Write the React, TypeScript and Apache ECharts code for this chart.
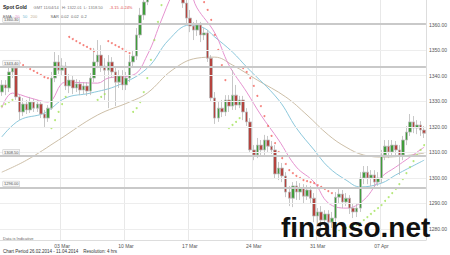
import React, { useEffect, useRef } from "react";
import * as echarts from "echarts";

const OPEN = [
  1333.6, 1336.4, 1335.2, 1341.5, 1343.0, 1331.7, 1325.8, 1328.9, 1326.6, 1329.7,
  1327.3, 1328.9, 1325.0, 1323.4, 1327.3, 1339.1, 1345.4, 1342.2, 1343.8, 1336.0,
  1338.3, 1335.2, 1336.8, 1334.4, 1336.0, 1334.0, 1339.1, 1345.4, 1348.1, 1343.8,
  1342.2, 1345.4, 1341.5, 1337.5, 1339.9, 1336.4, 1339.1, 1345.4, 1347.7, 1356.0,
  1363.8, 1368.9, 1375.6, 1379.5, 1378.3, 1384.6, 1387.3, 1385.4, 1391.3, 1383.4,
  1379.5, 1372.8, 1368.5, 1362.6, 1359.5, 1357.9, 1359.9, 1356.0, 1356.8, 1346.9,
  1331.3, 1323.4, 1327.3, 1325.8, 1330.5, 1328.1, 1332.4, 1328.5, 1330.5, 1325.8,
  1321.9, 1310.9, 1308.9, 1312.8, 1310.9, 1314.8, 1312.4, 1310.9, 1301.5, 1303.8,
  1300.7, 1294.4, 1292.0, 1296.8, 1294.4, 1296.0, 1292.8, 1295.2, 1292.0, 1285.0,
  1286.6, 1283.4, 1285.8, 1282.6, 1284.2, 1292.4, 1293.6, 1290.5, 1292.0, 1288.1,
  1286.6, 1288.1, 1299.9, 1302.2, 1299.9, 1301.1, 1298.3, 1299.9, 1308.9, 1312.4,
  1310.1, 1312.8, 1310.9, 1308.9, 1314.8, 1317.9, 1321.9, 1319.5, 1320.7, 1318.7,
];
const CLOSE = [
  1336.4, 1335.2, 1341.5, 1343.0, 1331.7, 1325.8, 1328.9, 1326.6, 1329.7, 1327.3,
  1328.9, 1325.0, 1323.4, 1327.3, 1339.1, 1345.4, 1342.2, 1343.8, 1336.0, 1338.3,
  1335.2, 1336.8, 1334.4, 1336.0, 1334.0, 1339.1, 1345.4, 1348.1, 1343.8, 1342.2,
  1345.4, 1341.5, 1337.5, 1339.9, 1336.4, 1339.1, 1345.4, 1347.7, 1356.0, 1363.8,
  1368.9, 1375.6, 1379.5, 1378.3, 1384.6, 1387.3, 1385.4, 1391.3, 1383.4, 1379.5,
  1372.8, 1368.5, 1362.6, 1359.5, 1357.9, 1359.9, 1356.0, 1356.8, 1346.9, 1331.3,
  1323.4, 1327.3, 1325.8, 1330.5, 1328.1, 1332.4, 1328.5, 1330.5, 1325.8, 1321.9,
  1310.9, 1308.9, 1312.8, 1310.9, 1314.8, 1312.4, 1310.9, 1301.5, 1303.8, 1300.7,
  1294.4, 1292.0, 1296.8, 1294.4, 1296.0, 1292.8, 1295.2, 1292.0, 1285.0, 1286.6,
  1283.4, 1285.8, 1282.6, 1284.2, 1292.4, 1293.6, 1290.5, 1292.0, 1288.1, 1286.6,
  1288.1, 1299.9, 1302.2, 1299.9, 1301.1, 1298.3, 1299.9, 1308.9, 1312.4, 1310.1,
  1312.8, 1310.9, 1308.9, 1314.8, 1317.9, 1321.9, 1319.5, 1320.7, 1318.7, 1317.5,
];
const LOW = [
  1332.1, 1332.4, 1333.6, 1339.1, 1330.5, 1322.6, 1324.2, 1325.0, 1325.4, 1325.8,
  1325.8, 1323.4, 1319.5, 1321.9, 1326.6, 1337.5, 1340.7, 1339.9, 1334.4, 1333.2,
  1332.8, 1333.6, 1332.4, 1332.8, 1332.1, 1332.4, 1337.5, 1343.0, 1341.5, 1330.5,
  1327.3, 1339.1, 1328.1, 1335.2, 1334.4, 1334.4, 1337.5, 1343.8, 1346.2, 1354.8,
  1361.9, 1367.7, 1373.6, 1376.8, 1377.5, 1382.6, 1383.4, 1384.2, 1381.5, 1376.8,
  1370.5, 1366.6, 1359.9, 1357.1, 1354.0, 1355.6, 1353.2, 1354.0, 1345.4, 1329.7,
  1321.1, 1321.9, 1323.8, 1324.2, 1325.8, 1326.6, 1326.6, 1327.3, 1322.6, 1320.3,
  1309.7, 1306.9, 1307.7, 1308.5, 1308.9, 1310.1, 1309.3, 1299.9, 1299.1, 1298.3,
  1292.4, 1288.9, 1288.5, 1291.3, 1291.3, 1290.1, 1291.3, 1289.7, 1282.6, 1281.8,
  1280.3, 1281.1, 1279.9, 1280.3, 1282.6, 1290.1, 1288.1, 1288.9, 1285.8, 1284.2,
  1284.6, 1286.6, 1297.5, 1297.5, 1296.8, 1296.4, 1296.8, 1297.9, 1306.9, 1307.7,
  1308.1, 1308.5, 1301.1, 1306.9, 1312.8, 1316.4, 1317.5, 1317.1, 1316.4, 1315.6,
];
const HIGH = [
  1338.3, 1338.3, 1344.2, 1345.4, 1344.2, 1332.4, 1331.3, 1330.5, 1331.7, 1330.9,
  1330.5, 1330.1, 1326.6, 1328.5, 1341.5, 1349.3, 1348.1, 1346.9, 1345.4, 1340.7,
  1339.9, 1338.7, 1338.3, 1337.5, 1337.5, 1341.1, 1350.9, 1354.0, 1352.0, 1346.9,
  1348.1, 1347.3, 1343.8, 1342.2, 1342.2, 1341.5, 1348.1, 1350.1, 1358.7, 1366.6,
  1373.6, 1379.5, 1382.2, 1383.4, 1387.3, 1390.1, 1389.3, 1392.4, 1392.1, 1385.4,
  1381.5, 1374.4, 1369.7, 1365.8, 1361.1, 1361.9, 1361.1, 1358.7, 1357.9, 1348.1,
  1333.6, 1329.7, 1330.5, 1332.4, 1332.4, 1342.2, 1336.4, 1332.1, 1332.1, 1327.3,
  1323.4, 1312.8, 1315.6, 1314.8, 1316.8, 1316.4, 1314.4, 1312.8, 1306.2, 1305.8,
  1302.2, 1296.8, 1298.3, 1298.7, 1297.9, 1297.5, 1297.1, 1296.8, 1294.0, 1288.1,
  1288.9, 1287.3, 1287.3, 1286.6, 1294.4, 1296.0, 1295.2, 1294.0, 1293.2, 1290.1,
  1289.7, 1302.2, 1304.6, 1304.6, 1303.0, 1303.0, 1302.2, 1310.9, 1314.8, 1314.8,
  1314.8, 1314.4, 1312.8, 1316.4, 1320.3, 1325.0, 1324.2, 1322.6, 1322.2, 1320.3,
];

// indicator lines: [bar index, value]
const EMA20 = [
  [0, 1327.3], [3, 1333.2], [8, 1331.3], [13, 1329.7], [18, 1337.5], [27, 1337.1],
  [30, 1339.1], [37, 1340.3], [41, 1348.1], [45, 1361.9], [48, 1371.7], [50, 1375.6],
  [53, 1372.8], [55, 1366.6], [60, 1356.8], [64, 1344.2], [69, 1333.6], [73, 1324.6],
  [78, 1314.8], [83, 1304.2], [88, 1298.3], [92, 1290.1], [97, 1288.1], [102, 1291.3],
  [107, 1300.3], [111, 1304.2], [119, 1312.0],
];
const EMA50 = [
  [0, 1316.0], [5, 1322.6], [12, 1325.4], [18, 1331.3], [25, 1333.2], [33, 1336.4],
  [41, 1343.0], [47, 1354.0], [53, 1359.9], [57, 1358.7], [60, 1355.2], [65, 1349.3],
  [69, 1343.4], [78, 1330.5], [83, 1319.5], [88, 1310.9], [92, 1304.2], [97, 1299.1],
  [101, 1296.4], [107, 1297.9], [111, 1301.1], [119, 1306.9],
];
const EMA200 = [
  [0, 1302.2], [7, 1306.9], [16, 1314.8], [27, 1324.6], [36, 1329.7], [41, 1333.2],
  [48, 1342.2], [55, 1346.9], [60, 1347.3], [65, 1344.2], [72, 1338.3], [80, 1331.7],
  [86, 1324.6], [92, 1316.8], [97, 1312.0], [102, 1308.9], [108, 1308.1], [119, 1309.7],
];
const SAR_UP = [
  [0, 1328.1], [1, 1328.9], [2, 1329.7], [3, 1330.5],
  [14, 1319.5], [15, 1322.6], [16, 1325.8], [17, 1328.9], [18, 1331.7],
  [27, 1330.5], [28, 1331.7], [29, 1332.8],
  [37, 1325.8], [38, 1327.3], [39, 1329.7], [40, 1333.6], [41, 1339.1], [42, 1346.2],
  [43, 1354.0], [44, 1361.1], [45, 1367.7], [46, 1373.6], [47, 1377.5],
  [64, 1319.5], [65, 1320.7], [66, 1321.9], [67, 1323.4],
  [94, 1278.7], [95, 1279.5], [96, 1279.9], [97, 1280.3], [98, 1280.7], [99, 1281.1],
  [100, 1281.5], [101, 1282.2], [102, 1283.4], [103, 1284.6], [104, 1285.8], [105, 1287.0],
  [106, 1288.1], [107, 1289.3], [108, 1290.9], [109, 1292.4], [110, 1294.0], [111, 1295.6],
  [112, 1297.5], [113, 1299.5], [114, 1301.8], [115, 1304.2], [116, 1306.5], [117, 1308.9],
  [118, 1310.9], [119, 1312.8],
];
const SAR_DOWN = [
  [5, 1345.0], [6, 1344.2], [7, 1343.4], [8, 1342.6], [9, 1341.9], [10, 1341.1],
  [11, 1340.3], [12, 1339.5], [13, 1339.1],
  [19, 1355.2], [20, 1354.4], [21, 1353.6], [22, 1352.8], [23, 1352.0], [24, 1351.3],
  [25, 1350.5], [26, 1349.7],
  [30, 1353.6], [31, 1352.8], [32, 1352.0], [33, 1351.3], [34, 1350.5], [35, 1349.7], [36, 1348.9],
  [51, 1392.4], [52, 1390.5], [53, 1387.0], [54, 1381.0], [55, 1373.6], [56, 1371.7],
  [57, 1368.9], [58, 1365.8], [59, 1361.9], [60, 1356.0], [61, 1350.1], [62, 1344.2], [63, 1338.3],
  [68, 1343.0], [69, 1341.5], [70, 1339.1], [71, 1336.0], [72, 1332.1], [73, 1328.1],
  [74, 1324.2], [75, 1320.3], [76, 1316.4], [77, 1313.6], [78, 1310.1], [79, 1307.7],
  [80, 1305.4], [81, 1303.0], [82, 1301.8], [83, 1300.7], [84, 1299.9], [85, 1299.1],
  [86, 1298.7], [87, 1298.3], [88, 1297.9], [89, 1297.1], [90, 1296.4], [91, 1295.6],
  [92, 1294.8], [93, 1294.0],
];

const TICK_INDEX = [17, 35, 53, 71, 89, 107];
const TICK_LABELS = ["03 Mar", "10 Mar", "17 Mar", "24 Mar", "31 Mar", "07 Apr"];
const Y_TICKS = [1280, 1290, 1300, 1310, 1320, 1330, 1340, 1350, 1360];
const SUPPORT = [1360.3, 1343.4, 1308.5, 1296.0];

const FONT = "Liberation Sans, Arial, sans-serif";

export default function App() {
  const ref = useRef<HTMLDivElement>(null);
  useEffect(() => {
    if (!ref.current) return;
    const chart = echarts.init(ref.current, null, { renderer: "svg" });
    const cats = OPEN.map((_, i) => String(i));
    const candles = OPEN.map((o, i) => [o, CLOSE[i], LOW[i], HIGH[i]]);
    const last = CLOSE[CLOSE.length - 1];
    const isTick = (i: number) => TICK_INDEX.indexOf(i) >= 0;

    chart.setOption({
      animation: false,
      backgroundColor: "#ffffff",
      textStyle: { fontFamily: FONT },
      grid: { left: 0, right: 20, top: 0, bottom: 15 },
      xAxis: {
        type: "category",
        data: cats,
        axisLine: { show: true, lineStyle: { color: "#dddddd" } },
        axisTick: { show: false },
        axisLabel: {
          interval: (i: number) => isTick(i),
          formatter: (_v: string, i: number) => {
            const k = TICK_INDEX.indexOf(i);
            return k >= 0 ? TICK_LABELS[k] : "";
          },
          fontSize: 5,
          color: "#555",
          margin: 3,
        },
        splitLine: {
          show: true,
          interval: (i: number) => isTick(i),
          lineStyle: { color: "#e8e8e8", width: 1 },
        },
      },
      yAxis: {
        type: "value",
        position: "right",
        min: 1275.6,
        max: 1369.7,
        axisLine: { show: true, lineStyle: { color: "#dddddd" } },
        axisTick: { show: false },
        splitLine: { show: false },
        axisLabel: {
          customValues: Y_TICKS,
          formatter: (v: number) => v.toFixed(2),
          fontSize: 5,
          color: "#555",
          margin: 3,
        },
      },
      series: [
        {
          type: "line",
          name: "EMA200",
          data: EMA200,
          smooth: 0.4,
          showSymbol: false,
          z: 1,
          lineStyle: { color: "#cdbfa8", width: 1 },
          markLine: {
            silent: true,
            symbol: ["none", "none"],
            data: [
              ...Y_TICKS.map((v) => ({
                yAxis: v,
                lineStyle: { color: "#ededed", width: 1, type: "solid" },
                label: { show: false },
              })),
              ...SUPPORT.map((v) => ({
                yAxis: v,
                lineStyle: { color: "#c9c9c9", width: 2, type: "solid" },
                label: {
                  show: true,
                  position: "insideStartTop",
                  formatter: () => v.toFixed(2),
                  fontSize: 4,
                  lineHeight: 4.5,
                  color: "#555",
                  backgroundColor: "#f6f6f6",
                  borderColor: "#c4c4c4",
                  borderWidth: 0.5,
                  padding: [0.3, 1],
                  distance: [3, 1.5],
                },
              })),
            ],
          },
        },
        {
          type: "line",
          name: "EMA50",
          data: EMA50,
          smooth: 0.4,
          showSymbol: false,
          z: 2,
          lineStyle: { color: "#8cc8dc", width: 1 },
        },
        {
          type: "line",
          name: "EMA20",
          data: EMA20,
          smooth: 0.4,
          showSymbol: false,
          z: 2,
          lineStyle: { color: "#e592cf", width: 1 },
        },
        {
          type: "candlestick",
          data: candles,
          barWidth: 3,
          z: 3,
          itemStyle: {
            color: "#3f9d3a",
            color0: "#b5433e",
            borderColor: "#b9b9b9",
            borderColor0: "#b9b9b9",
            borderWidth: 0.8,
          },
          markLine: {
            silent: true,
            symbol: ["none", "none"],
            data: [
              {
                yAxis: last,
                lineStyle: { opacity: 0, width: 0 },
                label: {
                  show: true,
                  position: "end",
                  formatter: () => last.toFixed(2),
                  fontSize: 5,
                  color: "#333",
                  backgroundColor: "#ffffff",
                  borderColor: "#777",
                  borderWidth: 0.6,
                  padding: [1, 1],
                  distance: 2,
                },
              },
            ],
          },
        },
        {
          type: "scatter",
          data: SAR_UP,
          symbolSize: 2,
          z: 4,
          itemStyle: { color: "#a4e25a" },
        },
        {
          type: "scatter",
          data: SAR_DOWN,
          symbolSize: 2,
          z: 4,
          itemStyle: { color: "#f2645c" },
        },
      ],
      graphic: [
        {
          type: "text",
          x: 3,
          y: 1,
          z: 10,
          style: {
            text: "{b|Spot Gold}  {g|GMT 11/04/14   H: 1322.01  L: 1318.50}  {r|-3.15 -0.24%}",
            fontFamily: FONT,
            rich: {
              b: { fontSize: 5, lineHeight: 6, fontWeight: "bold", fill: "#222", fontFamily: FONT },
              g: { fontSize: 4, lineHeight: 6, fill: "#777", fontFamily: FONT },
              r: { fontSize: 4, lineHeight: 6, fill: "#e04848", fontFamily: FONT },
            },
          },
        },
        {
          type: "text",
          x: 3,
          y: 10,
          z: 10,
          style: {
            text: "{g|EMA} {p|20} {bl|50} {t|200}    {g|SAR  0.02  0.02  0.2}",
            fontFamily: FONT,
            rich: {
              g: { fontSize: 4, lineHeight: 5, fill: "#666", fontFamily: FONT },
              p: { fontSize: 4, lineHeight: 5, fill: "#e592cf", fontFamily: FONT },
              bl: { fontSize: 4, lineHeight: 5, fill: "#6fb8d0", fontFamily: FONT },
              t: { fontSize: 4, lineHeight: 5, fill: "#c2b08f", fontFamily: FONT },
            },
          },
        },
        {
          type: "text",
          x: 3,
          y: 236,
          z: 10,
          style: { text: "Data is Indicative", fontSize: 4, fill: "#666", fontFamily: FONT },
        },
        {
          type: "text",
          x: 3,
          y: 249,
          z: 10,
          style: {
            text: "Chart Period 26.02.2014 - 11.04.2014    Resolution: 4 hrs",
            fontSize: 4.5,
            fill: "#333",
            fontFamily: FONT,
          },
        },
        {
          type: "text",
          x: 281,
          y: 217,
          z: 20,
          style: {
            text: "finanso.net",
            font: 'bold 28px "Liberation Sans", Arial, sans-serif',
            lineHeight: 21,
            fill: "#111111",
            verticalAlign: "top",
          },
        },
      ],
    });
    return () => chart.dispose();
  }, []);
  return (
    <div
      ref={ref}
      style={{ position: "fixed", left: 0, top: 0, width: 450, height: 255 }}
    />
  );
}
